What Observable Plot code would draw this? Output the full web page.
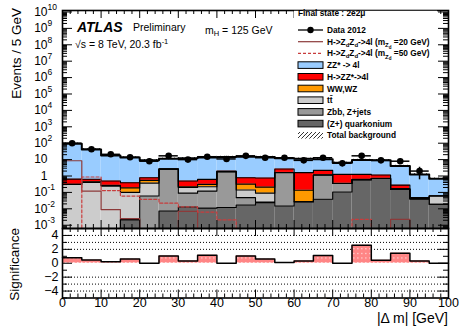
<!DOCTYPE html>
<html><head><meta charset="utf-8">
<script src="https://cdn.jsdelivr.net/npm/d3@7"></script>
<script src="https://cdn.jsdelivr.net/npm/@observablehq/plot@0.6"></script>
<style>
body{margin:0;background:#fff;}
#wrap{position:relative;width:460px;height:328px;overflow:hidden;}
#wrap svg{position:absolute;left:0;overflow:visible;}
</style></head><body><div id="wrap"></div>
<svg width="0" height="0" style="position:absolute">
  <defs>
    <pattern id="bkgHatch" patternUnits="userSpaceOnUse" width="4" height="4">
      <path d="M-1,1 l2,-2 M0,4 l4,-4 M3,5 l2,-2" stroke="#000" stroke-width="0.8"/>
    </pattern>
    <pattern id="sigFill" patternUnits="userSpaceOnUse" width="4" height="4.6">
      <rect width="4" height="4.6" fill="#ff8585"/>
      <rect x="1" y="2" width="1.6" height="0.9" fill="#fff" fill-opacity="0.75"/>
    </pattern>
  </defs>
</svg>
<script>
// ---------------- data ----------------
const binLow = [0,5,10,15,20,25,30,35,40,45,50,55,60,65,70,75,80,85,90,95];
const binW = 5;
const data2012 = [100,43,21,14,8,17,10,15,11,17,13,13,9,13,6,17,9,8,2,0];
const quarkonium = [0,0,0,0.0022,0,0.0074,0.013,0.011,0.012,0.017,0.024,0.015,0.027,0.038,0.105,0.57,0.7,0.15,0.04,0.019];
const zbbZjets   = [0,0,0,0,0.06,2.59,0.077,0.109,1.79,0.031,0.002,1.585,0,1.11,0.245,0.03,0,0,0,0];
const ttbar      = [0.31,0.41,0.24,0.098,0.31,0.02,0.11,0.10,0.02,0.092,0.064,0.02,0,0,0,0.01,0.01,0.01,0.002,0.041];
const wwwz       = [0,0.03,0.03,0.09,0.17,0.03,0.02,0.09,0.03,0.18,0.12,0.03,0.108,0.01,0.01,0.01,0.01,0.01,0.002,0];
const hzz4l      = [0.34,0.19,0.23,0.2,0.25,0.1,0.28,0.31,0.15,0.47,0.55,1.05,1.465,1.04,0.9,0.64,0.43,0.11,0.004,0.002];
const zz4l       = [92.3,41.4,17.5,13.0,8.4,8.45,11.5,12.6,12.5,14.2,13.7,9.3,9.6,8.3,5.1,8.2,8.05,3.8,1.2,0.62];
const sigZd20    = [8.5,0.12,0.009,0.0025,0,0,0.007,0,0,0,0,0,0,0,0,0,0,0.0023,0,0];
const sigZd50    = [0,0.87,0.13,0.06,0.038,0.022,0.013,0.0063,0.0021,0,0,0,0,0,0,0.0023,0,0,0,0];
const significance = [0.8,0.45,0.2,0.6,0,1.05,0.33,1.15,0,1.05,0.6,0.1,0.33,1.1,0,2.6,0.43,1.45,0.33,0];
const bkgRelUnc = 0.1;
const yTickExps = [-3,-2,-1,0,1,2,3,4,5,6,7,8,9,10];
const xTicks = [0,10,20,30,40,50,60,70,80,90,100];
const sigTicks = [-4,-2,0,2,4];
const sigGrid = [-4,-3,-2,2,3,4];

const comps = [
  {name:"(Z+) quarkonium", values: quarkonium, fill:"#666666"},
  {name:"Zbb, Z+jets", values: zbbZjets, fill:"#999999"},
  {name:"tt\u0304", values: ttbar, fill:"#cccccc"},
  {name:"WW,WZ", values: wwwz, fill:"#ff9900"},
  {name:"H->ZZ*->4l", values: hzz4l, fill:"#ff0000"},
  {name:"ZZ* -> 4l", values: zz4l, fill:"#99ccff"}
];

// ---------------- setup ----------------
const FONT = "'Liberation Sans', Arial, Helvetica, sans-serif";
const yMin = Math.pow(10, -3.2), yMax = Math.pow(10, 10.09);
const pxPerDecade = 218 / Math.log10(yMax / yMin);
const xPerPx = 100 / 386;
const bins = binLow.map((x0, i) => i);

let below = bins.map(() => 0);
const layers = comps.map(c => {
  const lo = below.slice();
  const hi = lo.map((v, i) => v + c.values[i]);
  below = hi;
  return {...c, lo, hi};
});
const total = below;

const stepPts = (vals, floor) => binLow.flatMap((x0, i) => {
  const v = floor === undefined ? vals[i] : Math.max(vals[i], floor);
  return [{x: x0, y: v}, {x: x0 + binW, y: v}];
});

const yMinor = [-4,-3,-2,-1,0,1,2,3,4,5,6,7,8,9]
  .flatMap(e => [2,3,4,5,6,7,8,9].map(m => m * Math.pow(10, e)))
  .filter(v => v > yMin && v < yMax);
const yMajor = yTickExps.map(e => Math.pow(10, e));
const xMinor = d3.range(0, 101, 2).filter(v => v % 10 !== 0);

const majLenX = 10 * xPerPx, minLenX = 5 * xPerPx;
const fMaj = Math.pow(10, 8 / pxPerDecade), fMin = Math.pow(10, 4 / pxPerDecade);

const dataPts = bins.filter(i => data2012[i] > 0).map(i => ({
  x: binLow[i] + binW / 2, x1: binLow[i], x2: binLow[i] + binW,
  n: data2012[i],
  lo: Math.max(data2012[i] - Math.sqrt(data2012[i]), yMin),
  hi: data2012[i] + Math.sqrt(data2012[i])
}));

// ---------------- main panel ----------------
const main = Plot.plot({
  width: 460, height: 228,
  marginLeft: 62, marginRight: 12, marginTop: 10, marginBottom: 0,
  x: {domain: [0, 100], axis: null},
  y: {type: "log", domain: [yMin, yMax], axis: null},
  style: {fontFamily: FONT, background: "transparent", overflow: "visible"},
  marks: [
    ...layers.map(L => Plot.rect(bins.filter(i => L.hi[i] > yMin && L.hi[i] > L.lo[i]), {
      x1: i => binLow[i], x2: i => binLow[i] + binW,
      y1: i => Math.max(L.lo[i], yMin), y2: i => L.hi[i],
      fill: L.fill, clip: true
    })),
    Plot.rect(bins, {
      x1: i => binLow[i], x2: i => binLow[i] + binW,
      y1: i => total[i] * (1 - bkgRelUnc), y2: i => total[i] * (1 + bkgRelUnc),
      fill: "url(#bkgHatch)", clip: true
    }),
    ...layers.map((L, k) => Plot.line(stepPts(L.hi, yMin), {
      x: "x", y: "y", stroke: "black", strokeWidth: k === layers.length - 1 ? 2 : 1.1, clip: true
    })),
    Plot.line(stepPts(sigZd20, yMin), {x: "x", y: "y", stroke: "#8c3a3a", strokeWidth: 1.2, clip: true}),
    Plot.line(stepPts(sigZd50, yMin), {x: "x", y: "y", stroke: "#c83c3c", strokeWidth: 1.2, strokeDasharray: "3,2", clip: true}),
    Plot.ruleY(dataPts, {y: "n", x1: "x1", x2: "x2", stroke: "black", strokeWidth: 1.5}),
    Plot.ruleX(dataPts, {x: "x", y1: "lo", y2: "hi", stroke: "black", strokeWidth: 1.5}),
    Plot.dot(dataPts, {x: "x", y: "n", r: 3.3, fill: "black", stroke: "none"}),
    // ticks
    Plot.ruleY(yMajor, {y: d => d, x1: 0, x2: majLenX, stroke: "black", strokeWidth: 1}),
    Plot.ruleY(yMajor, {y: d => d, x1: 100 - majLenX, x2: 100, stroke: "black", strokeWidth: 1}),
    Plot.ruleY(yMinor, {y: d => d, x1: 0, x2: minLenX, stroke: "black", strokeWidth: 1}),
    Plot.ruleY(yMinor, {y: d => d, x1: 100 - minLenX, x2: 100, stroke: "black", strokeWidth: 1}),
    Plot.ruleX(xTicks, {x: d => d, y1: yMin, y2: yMin * fMaj, stroke: "black", strokeWidth: 1}),
    Plot.ruleX(xTicks, {x: d => d, y1: yMax / fMaj, y2: yMax, stroke: "black", strokeWidth: 1}),
    Plot.ruleX(xMinor, {x: d => d, y1: yMin, y2: yMin * fMin, stroke: "black", strokeWidth: 1}),
    Plot.ruleX(xMinor, {x: d => d, y1: yMax / fMin, y2: yMax, stroke: "black", strokeWidth: 1}),
    Plot.frame({stroke: "black", strokeWidth: 1.6}),
    // tick labels
    Plot.text(yTickExps, {y: e => Math.pow(10, e), text: e => e === 0 ? "1" : "10",
      frameAnchor: "left", textAnchor: "end", dx: -15, fontSize: 12, fill: "black"}),
    Plot.text(yTickExps.filter(e => e !== 0 && e !== 1), {y: e => Math.pow(10, e), text: e => String(e),
      frameAnchor: "left", textAnchor: "start", dx: -15, dy: -5, fontSize: 8.5, fill: "black"})
  ]
});
main.style.top = "0px";
document.getElementById("wrap").appendChild(main);

const sm = d3.select(main);
const ann = sm.append("g").attr("font-family", FONT).attr("fill", "black").attr("text-anchor", "start");
ann.append("text").attr("x", 77).attr("y", 31.7).attr("font-size", 14).attr("font-weight", "bold").attr("font-style", "italic").text("ATLAS");
ann.append("text").attr("x", 133).attr("y", 30.5).attr("font-size", 10.5).text("Preliminary");
ann.append("text").attr("x", 75).attr("y", 48.3).attr("font-size", 10.5)
  .html('√s = 8 TeV, 20.3 fb<tspan dy="-4" font-size="7.5">-1</tspan>');
ann.append("text").attr("x", 205).attr("y", 33.5).attr("font-size", 10.5)
  .html('m<tspan dy="2.5" font-size="7.5">H</tspan><tspan dy="-2.5"> = 125 GeV</tspan>');
ann.append("text").attr("transform", "translate(21,8) rotate(-90)").attr("text-anchor", "end")
  .attr("font-size", 13.5).text("Events / 5 GeV");

// legend (white box like ROOT's TLegend)
const lg = sm.append("g").attr("font-family", FONT).attr("font-weight", "bold").attr("font-size", 8.3)
  .attr("fill", "black").attr("text-anchor", "start");
lg.append("rect").attr("x", 294).attr("y", 10.8).attr("width", 143).attr("height", 130).attr("fill", "white");
lg.append("text").attr("x", 298).attr("y", 16.3).text("Final state : 2e2μ");
const ly = i => 30 + 11.7 * i;
const sx0 = 298, sx1 = 323, tx = 327;
lg.append("line").attr("x1", sx0).attr("x2", sx1).attr("y1", ly(0)).attr("y2", ly(0)).attr("stroke", "black").attr("stroke-width", 1.3);
lg.append("circle").attr("cx", (sx0 + sx1) / 2).attr("cy", ly(0)).attr("r", 3.2).attr("fill", "black");
lg.append("text").attr("x", tx).attr("y", ly(0) + 3).text("Data 2012");
const sigLabel = m => 'H-&gt;Z<tspan dy="2" font-size="6">d</tspan><tspan dy="-2">Z</tspan><tspan dy="2" font-size="6">d</tspan><tspan dy="-2">-&gt;4l (m</tspan><tspan dy="2.5" font-size="6">Z</tspan><tspan dy="1.5" font-size="4.5">d</tspan><tspan dy="-4"> =' + m + ' GeV)</tspan>';
lg.append("line").attr("x1", sx0).attr("x2", sx1).attr("y1", ly(1)).attr("y2", ly(1)).attr("stroke", "#8c3a3a").attr("stroke-width", 1.2);
lg.append("text").attr("x", tx).attr("y", ly(1) + 3).html(sigLabel(20));
lg.append("line").attr("x1", sx0).attr("x2", sx1).attr("y1", ly(2)).attr("y2", ly(2)).attr("stroke", "#c83c3c").attr("stroke-width", 1.2).attr("stroke-dasharray", "3,2");
lg.append("text").attr("x", tx).attr("y", ly(2) + 3).html(sigLabel(50));
comps.slice().reverse().forEach((c, k) => {
  const i = 3 + k;
  lg.append("rect").attr("x", sx0).attr("y", ly(i) - 3.3).attr("width", sx1 - sx0).attr("height", 6.6)
    .attr("fill", c.fill).attr("stroke", "black").attr("stroke-width", 1);
  lg.append("text").attr("x", tx).attr("y", ly(i) + 3).text(c.name);
});
lg.append("rect").attr("x", sx0).attr("y", ly(9) - 3.3).attr("width", sx1 - sx0).attr("height", 6.6).attr("fill", "url(#bkgHatch)");
lg.append("text").attr("x", tx).attr("y", ly(9) + 3).text("Total background");

// ---------------- significance panel ----------------
const sigPerPx = 10 / 69.5;
const lower = Plot.plot({
  width: 460, height: 100,
  marginLeft: 62, marginRight: 12, marginTop: 0, marginBottom: 30.5,
  x: {domain: [0, 100], axis: null},
  y: {domain: [-5, 5], axis: null},
  style: {fontFamily: FONT, background: "transparent", overflow: "visible"},
  marks: [
    Plot.ruleY(sigGrid, {y: d => d, stroke: "black", strokeWidth: 1, strokeDasharray: "1,2"}),
    Plot.rect(bins.filter(i => significance[i] !== 0), {
      x1: i => binLow[i], x2: i => binLow[i] + binW, y1: 0, y2: i => significance[i],
      fill: "url(#sigFill)"
    }),
    Plot.line(stepPts(significance), {x: "x", y: "y", stroke: "black", strokeWidth: 1.5}),
    Plot.ruleY(sigTicks, {y: d => d, x1: 0, x2: majLenX, stroke: "black"}),
    Plot.ruleY(sigTicks, {y: d => d, x1: 100 - majLenX, x2: 100, stroke: "black"}),
    Plot.ruleY([-5,-3,-1,1,3,5], {y: d => d, x1: 0, x2: minLenX, stroke: "black"}),
    Plot.ruleY([-5,-3,-1,1,3,5], {y: d => d, x1: 100 - minLenX, x2: 100, stroke: "black"}),
    Plot.ruleX(xTicks, {x: d => d, y1: -5, y2: -5 + 8 * sigPerPx, stroke: "black"}),
    Plot.ruleX(xTicks, {x: d => d, y1: 5 - 8 * sigPerPx, y2: 5, stroke: "black"}),
    Plot.ruleX(xMinor, {x: d => d, y1: -5, y2: -5 + 4 * sigPerPx, stroke: "black"}),
    Plot.ruleX(xMinor, {x: d => d, y1: 5 - 4 * sigPerPx, y2: 5, stroke: "black"}),
    Plot.frame({stroke: "black", strokeWidth: 1.6}),
    Plot.text(sigTicks, {y: d => d, text: d => d < 0 ? "\u2212" + (-d) : String(d),
      frameAnchor: "left", textAnchor: "end", dx: -4, fontSize: 12.5, fill: "black"}),
    Plot.text(xTicks, {x: d => d, text: d => String(d), frameAnchor: "bottom", dy: 8.5,
      fontSize: 12.5, fill: "black"})
  ]
});
lower.style.top = "228px";
document.getElementById("wrap").appendChild(lower);
const sl = d3.select(lower);
sl.append("text").attr("font-family", FONT).attr("font-size", 13.5).attr("fill", "black")
  .attr("transform", "translate(19,0) rotate(-90)").attr("text-anchor", "end").text("Significance");
sl.append("text").attr("font-family", FONT).attr("font-size", 14).attr("fill", "black")
  .attr("x", 448).attr("y", 95).attr("text-anchor", "end").text("|Δ m| [GeV]");
</script>
</body></html>
